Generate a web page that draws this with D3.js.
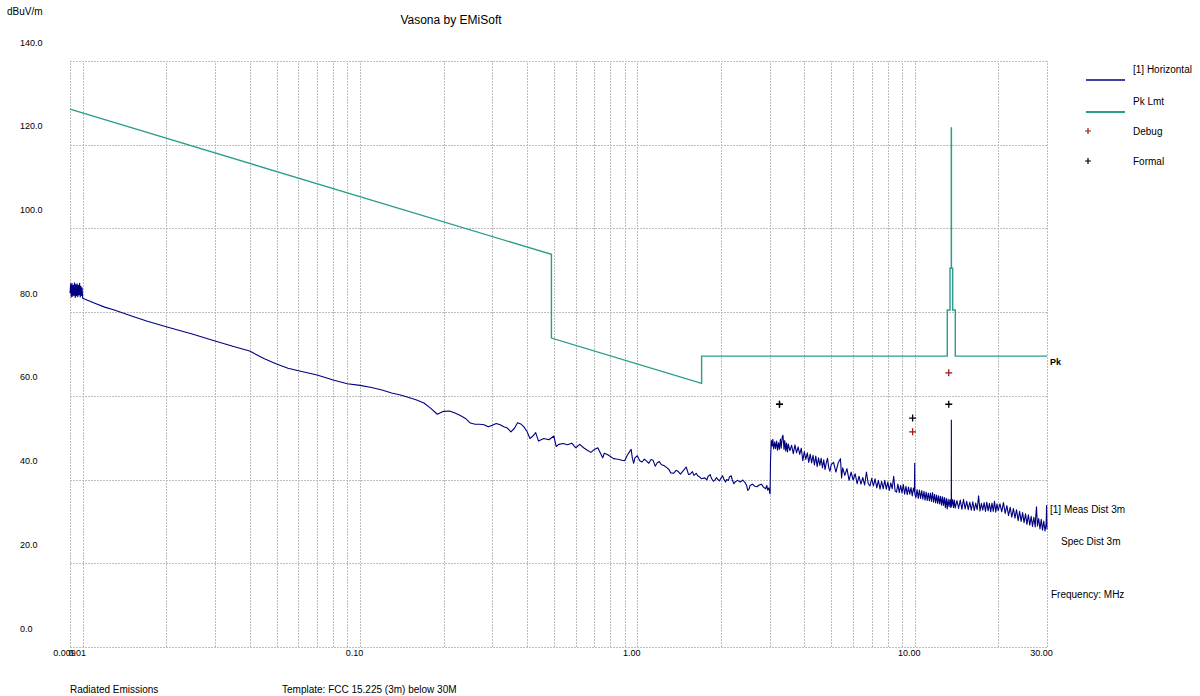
<!DOCTYPE html>
<html>
<head>
<meta charset="utf-8">
<script src="https://cdn.jsdelivr.net/npm/d3@7.8.5/dist/d3.min.js"></script>
<style>
  body { margin: 0; background: #fff; }
  svg { display: block; font-family: "Liberation Sans", Arial, sans-serif; }
  .tick text { fill: #000; }
</style>
</head>
<body>
<div id="chart"></div>
<script>
// axis ticks
const freqTicks = [0.009, 0.01, 0.1, 1, 10, 30];
const freqTickLabels = ["0.009", "0.01", "0.10", "1.00", "10.00", "30.00"];
const freqGrid = [
  0.009, 0.01, 0.02, 0.03, 0.04, 0.05, 0.06, 0.07, 0.08, 0.09,
  0.1, 0.2, 0.3, 0.4, 0.5, 0.6, 0.7, 0.8, 0.9,
  1, 2, 3, 4, 5, 6, 7, 8, 9, 10, 20, 30,
];
const levelTicks = [0, 20, 40, 60, 80, 100, 120, 140];

// Pk Lmt (FCC 15.209 / 15.225), [MHz, dBuV/m]
const pkLimit = [
  [0.009, 128.5], [0.49, 93.8], [0.49, 73.8], [1.705, 63.0], [1.705, 69.5],
  [13.11, 69.5], [13.11, 80.5], [13.41, 80.5], [13.41, 90.5], [13.553, 90.5],
  [13.553, 124.0], [13.567, 124.0], [13.567, 90.5], [13.71, 90.5], [13.71, 80.5],
  [14.01, 80.5], [14.01, 69.5], [30, 69.5],
];

// [1] Horizontal scan
const scanLowBand = [
  [0.009, 84.5], [0.00905, 86.8], [0.0091, 83.6], [0.00915, 86.9], [0.0092, 83.8],
  [0.00925, 86.5], [0.0093, 84.0], [0.00935, 87.0], [0.0094, 83.5], [0.00945, 86.6],
  [0.0095, 83.9], [0.00955, 86.8], [0.0096, 83.7], [0.00965, 86.4], [0.0097, 84.1],
  [0.00975, 86.9], [0.0098, 83.6], [0.00985, 86.2], [0.0099, 84.0], [0.00995, 85.8],
  [0.01, 83.3],
];
const scanMid = [
  [0.011, 82.2], [0.012, 81.2], [0.013, 80.5], [0.015, 79.1], [0.017, 77.9],
  [0.02, 76.5], [0.025, 74.7], [0.03, 73.1], [0.035, 71.8], [0.04, 70.7],
  [0.045, 68.9], [0.05, 67.6], [0.055, 66.6], [0.06, 66.0], [0.07, 65.0],
  [0.08, 63.8], [0.09, 62.9], [0.1, 62.5], [0.11, 62.0], [0.12, 61.4],
  [0.13, 60.7], [0.14, 60.2], [0.15, 59.6], [0.16, 59.0], [0.17, 58.3],
  [0.18, 57.0], [0.19, 55.6], [0.2, 56.3], [0.21, 56.4], [0.22, 55.9],
  [0.23, 55.3], [0.24, 54.6], [0.25, 53.5], [0.26, 53.2], [0.27, 53.2],
  [0.28, 53.1], [0.29, 52.6], [0.3, 53.0], [0.31, 53.4], [0.32, 53.1],
  [0.33, 52.6], [0.34, 52.3], [0.35, 51.4], [0.36, 52.2], [0.37, 53.6],
  [0.38, 53.3], [0.39, 52.6], [0.4, 51.5], [0.41, 49.8], [0.42, 50.4],
  [0.43, 51.2], [0.44, 49.2], [0.46, 49.8], [0.48, 49.5], [0.5, 50.4],
  [0.51, 47.9], [0.52, 48.4], [0.54, 48.6], [0.56, 48.3], [0.58, 48.7],
  [0.6, 47.6], [0.62, 48.4], [0.64, 47.6], [0.66, 47.0], [0.68, 46.5],
  [0.7, 47.2], [0.72, 47.6], [0.74, 46.0], [0.75, 45.2], [0.76, 46.3],
  [0.78, 46.0], [0.8, 45.5], [0.82, 45.0], [0.84, 44.9], [0.86, 44.8],
  [0.88, 44.6], [0.9, 44.5], [0.92, 45.8], [0.94, 46.8], [0.95, 47.2],
  [0.96, 45.0], [0.97, 43.9], [0.98, 45.2], [1.0, 45.7], [1.02, 44.5],
  [1.04, 44.2], [1.06, 44.9], [1.08, 44.4], [1.1, 43.9], [1.12, 44.8],
  [1.14, 44.6], [1.16, 43.2], [1.18, 44.0], [1.2, 44.3], [1.22, 43.6],
  [1.25, 43.3], [1.28, 42.8], [1.3, 42.4], [1.32, 41.6], [1.35, 41.5],
  [1.38, 42.2], [1.4, 42.0], [1.43, 41.3], [1.45, 41.8], [1.48, 42.5],
  [1.5, 43.0], [1.53, 41.2], [1.55, 41.3], [1.58, 41.9], [1.6, 41.0],
  [1.63, 41.5], [1.65, 40.9], [1.68, 40.6], [1.7, 40.2], [1.75, 40.4],
  [1.78, 39.9], [1.8, 40.8], [1.83, 41.2], [1.85, 40.3], [1.88, 39.6],
  [1.9, 39.8], [1.93, 40.5], [1.95, 40.0], [1.98, 39.7], [2.0, 40.3],
  [2.03, 40.9], [2.05, 40.1], [2.08, 39.4], [2.1, 40.0], [2.13, 39.8],
  [2.15, 40.7], [2.18, 40.9], [2.2, 39.9], [2.23, 39.0], [2.25, 39.4],
  [2.3, 39.8], [2.35, 39.4], [2.4, 39.9], [2.45, 39.2], [2.48, 38.5],
  [2.5, 37.4], [2.53, 37.8], [2.55, 38.6], [2.6, 38.9], [2.65, 38.4],
  [2.7, 38.3], [2.75, 38.7], [2.8, 38.9], [2.85, 38.2], [2.9, 37.8],
  [2.93, 38.6], [2.95, 37.5], [2.98, 38.0], [3.0, 36.9], [3.01, 36.6],
  [3.02, 44.0],
];
const scanHigh = [
  [3.04, 49.4], [3.06, 48.0], [3.08, 49.6], [3.1, 47.3], [3.13, 49.0],
  [3.15, 47.4], [3.18, 49.2], [3.2, 47.0], [3.23, 48.8], [3.25, 47.2],
  [3.28, 49.7], [3.3, 47.5], [3.33, 50.2], [3.35, 50.6], [3.38, 47.2],
  [3.4, 49.3], [3.43, 46.8], [3.45, 48.7], [3.48, 46.6], [3.5, 48.5],
  [3.55, 46.9], [3.6, 48.2], [3.65, 46.2], [3.7, 48.3], [3.75, 46.4],
  [3.8, 47.8], [3.85, 46.0], [3.9, 47.5], [3.95, 44.5], [4.0, 46.7],
  [4.05, 44.8], [4.1, 46.4], [4.15, 44.1], [4.2, 46.1], [4.25, 44.0],
  [4.3, 45.8], [4.35, 43.5], [4.4, 45.6], [4.45, 43.1], [4.5, 45.2],
  [4.55, 43.4], [4.6, 45.1], [4.65, 42.8], [4.7, 44.7], [4.75, 42.4],
  [4.8, 44.0], [4.85, 45.1], [4.9, 42.8], [4.95, 42.0], [5.0, 43.6],
  [5.1, 44.1], [5.2, 41.8], [5.3, 44.0], [5.4, 45.0], [5.45, 40.4],
  [5.5, 42.8], [5.6, 41.0], [5.7, 42.6], [5.8, 39.8], [5.9, 41.8],
  [6.0, 39.9], [6.1, 41.4], [6.2, 39.0], [6.3, 40.8], [6.4, 38.9],
  [6.5, 40.5], [6.6, 38.7], [6.7, 41.8], [6.8, 39.0], [6.9, 38.5],
  [7.0, 40.3], [7.1, 38.5], [7.2, 40.2], [7.3, 38.0], [7.4, 39.8],
  [7.5, 37.7], [7.6, 39.6], [7.7, 37.8], [7.8, 39.8], [7.9, 37.7],
  [8.0, 39.4], [8.1, 37.4], [8.2, 39.2], [8.3, 37.8], [8.4, 40.8],
  [8.5, 37.3], [8.6, 37.0], [8.7, 38.9], [8.8, 36.9], [8.9, 38.6],
  [9.0, 36.8], [9.1, 38.8], [9.2, 36.5], [9.3, 38.4], [9.4, 36.4],
  [9.5, 38.2], [9.6, 36.5], [9.7, 38.1], [9.8, 36.1], [9.9, 38.0],
  [9.98, 37.0], [10.0, 43.9], [10.02, 36.4], [10.1, 35.7], [10.2, 37.6],
  [10.3, 35.5], [10.4, 37.5], [10.5, 35.5], [10.6, 37.4], [10.7, 35.3],
  [10.8, 37.2], [10.9, 35.1], [11.0, 37.0], [11.1, 35.0], [11.2, 36.8],
  [11.3, 34.9], [11.4, 36.8], [11.5, 34.8], [11.6, 36.9], [11.7, 34.6],
  [11.8, 36.5], [11.9, 34.4], [12.0, 36.3], [12.1, 34.3], [12.2, 36.1],
  [12.3, 34.2], [12.4, 36.0], [12.5, 33.9], [12.6, 35.9], [12.7, 33.8],
  [12.8, 35.7], [12.9, 33.3], [13.0, 35.5], [13.1, 33.0], [13.2, 35.3],
  [13.3, 33.5], [13.4, 35.2], [13.5, 33.3], [13.55, 34.7], [13.56, 54.2],
  [13.57, 33.6], [13.7, 35.2], [13.8, 33.3], [13.9, 35.1], [14.0, 33.2],
  [14.2, 35.0], [14.4, 33.1], [14.6, 35.1], [14.8, 32.9], [15.0, 35.3],
  [15.2, 33.0], [15.4, 34.8], [15.6, 32.8], [15.8, 34.6], [16.0, 32.7],
  [16.2, 34.7], [16.4, 32.6], [16.6, 34.4], [16.8, 32.8], [17.0, 36.1],
  [17.2, 32.5], [17.4, 34.3], [17.6, 32.7], [17.8, 34.5], [18.0, 32.4],
  [18.2, 34.6], [18.4, 32.5], [18.6, 34.3], [18.8, 32.3], [19.0, 34.4],
  [19.2, 32.4], [19.4, 34.8], [19.6, 32.2], [19.8, 34.2], [20.0, 32.6],
  [20.3, 34.2], [20.6, 32.3], [20.9, 34.5], [21.2, 31.9], [21.5, 33.8],
  [21.8, 31.4], [22.1, 33.4], [22.4, 31.0], [22.7, 33.1], [23.0, 30.8],
  [23.3, 32.8], [23.6, 30.2], [23.9, 32.4], [24.2, 30.0], [24.5, 32.1],
  [24.8, 29.7], [25.1, 31.8], [25.4, 29.3], [25.7, 31.6], [26.0, 29.1],
  [26.3, 31.2], [26.6, 28.8], [26.9, 31.0], [27.2, 28.7], [27.3, 30.8],
  [27.5, 33.5], [27.7, 28.9], [28.0, 30.7], [28.3, 28.2], [28.6, 30.5],
  [28.9, 27.9], [29.2, 30.1], [29.5, 27.7], [29.8, 29.6], [29.9, 33.8],
  [30.0, 28.1],
];

// point markers
const debugPoints = [[3.255, 58.0], [9.83, 51.4], [13.27, 65.5]];
const formalPoints = [[3.255, 58.0], [9.83, 54.7], [13.27, 58.0]];

const width = 1200;
const height = 696;
const margin = { top: 61, right: 153, bottom: 49, left: 70 };

const traceColor = "#000080";
const limitColor = "#2a9d8c";
const debugColor = "#a01818";
const gridColor = "#bdbdbd";

const svg = d3
  .select("#chart")
  .append("svg")
  .attr("width", width)
  .attr("height", height);

const x = d3
  .scaleLog()
  .domain([0.009, 30])
  .range([margin.left, width - margin.right]);

const y = d3
  .scaleLinear()
  .domain([0, 140])
  .range([height - margin.bottom, margin.top]);

// grid
svg
  .append("g")
  .attr("class", "grid-x")
  .attr("transform", `translate(0, ${height - margin.bottom})`)
  .call(
    d3
      .axisBottom(x)
      .tickValues(freqGrid)
      .tickSize(-(height - margin.bottom - margin.top))
      .tickFormat(""),
  );

svg
  .append("g")
  .attr("class", "grid-y")
  .attr("transform", `translate(${margin.left}, 0)`)
  .call(
    d3
      .axisLeft(y)
      .tickValues(levelTicks)
      .tickSize(-(width - margin.left - margin.right))
      .tickFormat(""),
  );

svg.selectAll(".grid-x .domain, .grid-y .domain").remove();
svg
  .selectAll(".grid-x line, .grid-y line")
  .attr("stroke", gridColor)
  .attr("stroke-width", 1)
  .attr("stroke-dasharray", "2,1")
  .attr("shape-rendering", "crispEdges");

// tick labels (offset like the original)
const xAxis = svg
  .append("g")
  .attr("transform", `translate(0, ${height - margin.bottom})`)
  .call(
    d3
      .axisBottom(x)
      .tickValues(freqTicks)
      .tickSize(0)
      .tickFormat((d, i) => freqTickLabels[i]),
  );
xAxis.select(".domain").remove();
xAxis
  .selectAll(".tick text")
  .attr("y", 3)
  .attr("dy", 0)
  .attr("dx", -6)
  .style("font-size", "9px")
  .attr("dominant-baseline", "hanging");

const yAxis = svg
  .append("g")
  .attr("transform", `translate(20, 0)`)
  .call(d3.axisLeft(y).tickValues(levelTicks).tickSize(0).tickFormat(d3.format(".1f")));
yAxis.select(".domain").remove();
yAxis
  .selectAll(".tick text")
  .attr("x", 0)
  .attr("dy", -16)
  .attr("text-anchor", "start")
  .style("font-size", "9px");

// series
const line = d3
  .line()
  .x((d) => x(d[0]))
  .y((d) => y(d[1]));

const scan = scanLowBand.concat(scanMid, scanHigh);

svg
  .append("path")
  .datum(pkLimit)
  .attr("fill", "none")
  .attr("stroke", limitColor)
  .attr("stroke-width", 1.4)
  .attr("d", line);

svg
  .append("path")
  .datum(scan)
  .attr("fill", "none")
  .attr("stroke", traceColor)
  .attr("stroke-width", 1.1)
  .attr("stroke-linejoin", "round")
  .attr("d", line);

const plus = "M-3.5,0H3.5M0,-3.5V3.5";

svg
  .selectAll(".debug")
  .data(debugPoints)
  .enter()
  .append("path")
  .attr("class", "debug")
  .attr("d", plus)
  .attr("transform", (d) => `translate(${x(d[0])}, ${y(d[1])})`)
  .attr("stroke", debugColor)
  .attr("stroke-width", 1.3);

svg
  .selectAll(".formal")
  .data(formalPoints)
  .enter()
  .append("path")
  .attr("class", "formal")
  .attr("d", plus)
  .attr("transform", (d) => `translate(${x(d[0])}, ${y(d[1])})`)
  .attr("stroke", "#000")
  .attr("stroke-width", 1.3);

// texts
const addText = (tx, ty, str, size, extra) => {
  const t = svg
    .append("text")
    .attr("x", tx)
    .attr("y", ty)
    .style("font-size", size + "px")
    .text(str);
  if (extra) extra(t);
  return t;
};

addText(7, 15, "dBuV/m", 10);
addText(451, 24, "Vasona by EMiSoft", 12, (t) => t.attr("text-anchor", "middle"));
addText(70, 693, "Radiated Emissions", 10);
addText(282, 693, "Template: FCC 15.225 (3m) below 30M", 10);

addText(1050, 365, "Pk", 9, (t) => t.style("font-weight", "bold"));
addText(1050, 513, "[1] Meas Dist 3m", 10);
addText(1061, 545, "Spec Dist 3m", 10);
addText(1051, 598, "Frequency: MHz", 10);

// legend
const legend = svg.append("g").attr("class", "legend");
const legendRows = [
  { label: "[1] Horizontal", textY: 73, kind: "line", color: traceColor, markY: 80 },
  { label: "Pk Lmt", textY: 105, kind: "line", color: limitColor, markY: 112 },
  { label: "Debug", textY: 135, kind: "plus", color: debugColor, markY: 131 },
  { label: "Formal", textY: 165, kind: "plus", color: "#000", markY: 161 },
];

legendRows.forEach((r) => {
  if (r.kind === "line") {
    legend
      .append("line")
      .attr("x1", 1086)
      .attr("x2", 1125)
      .attr("y1", r.markY)
      .attr("y2", r.markY)
      .attr("stroke", r.color)
      .attr("stroke-width", r.color === limitColor ? 2 : 1.3);
  } else {
    legend
      .append("path")
      .attr("d", "M-3,0H3M0,-3V3")
      .attr("transform", `translate(1088, ${r.markY})`)
      .attr("stroke", r.color)
      .attr("stroke-width", 1.2);
  }
  legend
    .append("text")
    .attr("x", 1133)
    .attr("y", r.textY)
    .style("font-size", "10px")
    .text(r.label);
});
</script>
</body>
</html>
